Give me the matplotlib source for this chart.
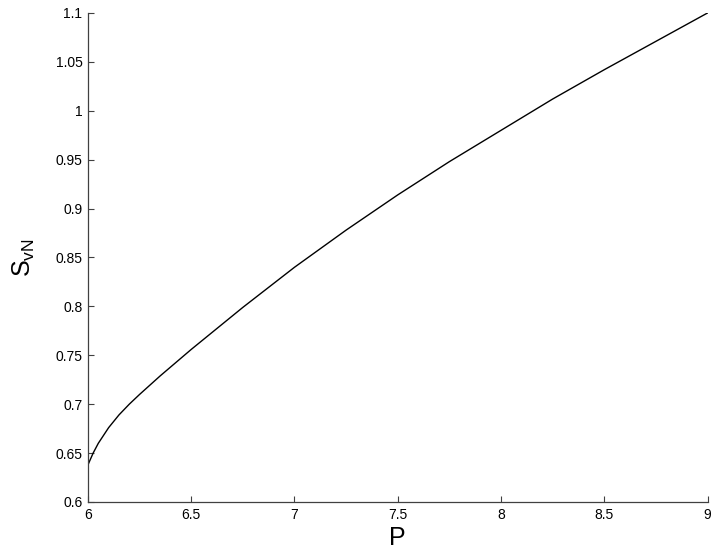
import matplotlib
matplotlib.use('Agg')
import matplotlib.pyplot as plt

# values
p_vals = [6.0, 6.025, 6.05, 6.1, 6.15, 6.2, 6.25, 6.35, 6.5, 6.75, 7.0, 7.25, 7.5,
          7.75, 8.0, 8.25, 8.5, 8.75, 9.0]
svn_vals = [0.638, 0.650, 0.660, 0.676, 0.689, 0.700, 0.710, 0.729, 0.756, 0.799, 0.840,
            0.878, 0.914, 0.948, 0.980, 1.012, 1.042, 1.071, 1.100]

x_ticks = [6, 6.5, 7, 7.5, 8, 8.5, 9]
x_ticklabels = ['6', '6.5', '7', '7.5', '8', '8.5', '9']
y_ticks = [0.6, 0.65, 0.7, 0.75, 0.8, 0.85, 0.9, 0.95, 1.0, 1.05, 1.1]
y_ticklabels = ['0.6', '0.65', '0.7', '0.75', '0.8', '0.85', '0.9', '0.95', '1', '1.05', '1.1']

plt.rcParams['font.family'] = ['Liberation Sans', 'DejaVu Sans']

fig = plt.figure(figsize=(7.17, 5.5), dpi=100)
ax = fig.add_axes([0.1227, 0.0873, 0.8641, 0.8891])

ax.plot(p_vals, svn_vals, color='black', linewidth=1.0)

ax.set_xlim(6, 9)
ax.set_ylim(0.6, 1.1)
ax.set_xticks(x_ticks)
ax.set_xticklabels(x_ticklabels)
ax.set_yticks(y_ticks)
ax.set_yticklabels(y_ticklabels)

ax.spines['top'].set_visible(False)
ax.spines['right'].set_visible(False)
for s in ['left', 'bottom']:
    ax.spines[s].set_color('#404040')
    ax.spines[s].set_linewidth(0.9)
ax.tick_params(direction='in', length=4.5, width=0.8, color='#404040',
               labelsize=10, pad=4)

ax.set_xlabel('P', fontsize=18, labelpad=3)
ax.set_ylabel(r'$\mathregular{S_{vN}}$', fontsize=18, labelpad=13)

fig.savefig('out.png', dpi=100)
